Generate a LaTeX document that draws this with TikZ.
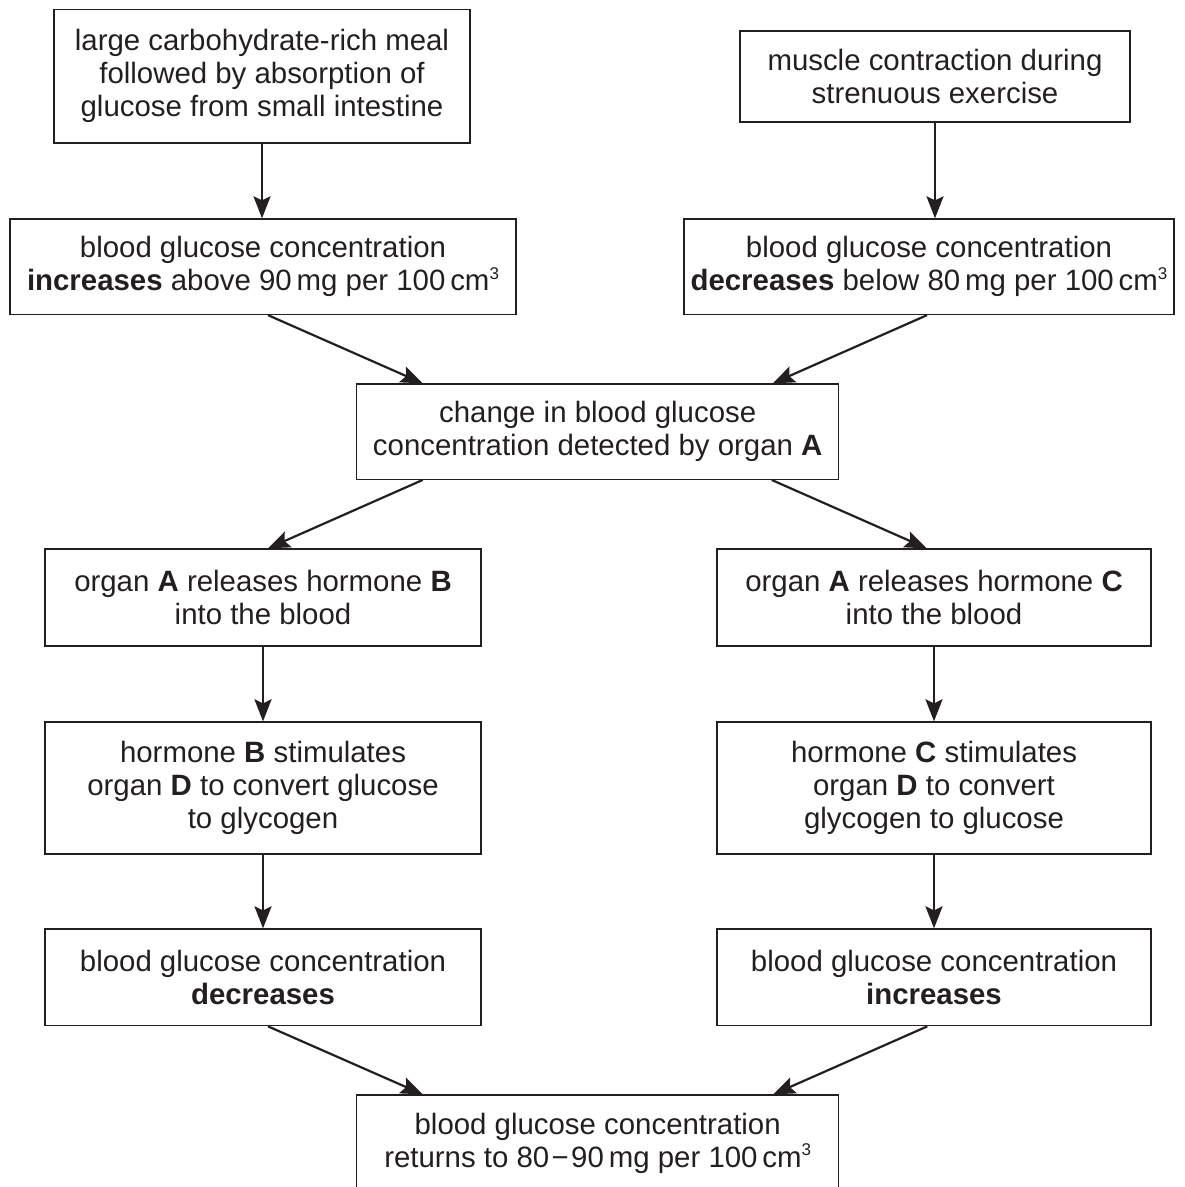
\documentclass[tikz,border=0pt]{standalone}
\usepackage{fontspec}
\setmainfont{Liberation Sans}
\usetikzlibrary{arrows.meta}
\definecolor{ink}{HTML}{231F20}
\newcommand{\cubesup}{\raisebox{0.75ex}{\fontsize{8.5pt}{8.5pt}\selectfont 3}}
\begin{document}
\begin{tikzpicture}[x=0.5pt,y=-0.5pt,
  box/.style={draw=ink, line width=0.65pt, inner sep=0pt, align=center, text=ink,
    font=\fontsize{14.7pt}{16.5pt}\selectfont},
  arr/.style={draw=ink, line width=1.1pt, -{Stealth[length=11pt,width=8.5pt,inset=2pt]}}]
\useasboundingbox (0,0) rectangle (1184,1187);
\begin{scope}
\clip (0,0) rectangle (1184,1187);
\node[box, minimum width=208pt, minimum height=66.75pt] (b1) at (262,76.25)
  {large carbohydrate-rich meal\\followed by absorption of\\glucose from small intestine};
\node[box, minimum width=195pt, minimum height=45.5pt] (b2) at (935,76.5)
  {muscle contraction during\\strenuous exercise};
\node[box, minimum width=253pt, minimum height=47.75pt] (b3) at (263,266.75)
  {blood glucose concentration\\\textbf{increases} above 90\,mg per 100\,cm\cubesup};
\node[box, minimum width=245pt, minimum height=47.75pt] (b4) at (929,266.75)
  {blood glucose concentration\\\textbf{decreases} below 80\,mg per 100\,cm\cubesup};
\node[box, minimum width=241pt, minimum height=47.65pt] (b5) at (597.7,431.65)
  {change in blood glucose\\concentration detected by organ \textbf{A}};
\node[box, minimum width=218pt, minimum height=48.5pt] (b6) at (263,597.5)
  {organ \textbf{A} releases hormone \textbf{B}\\into the blood};
\node[box, minimum width=217pt, minimum height=48.5pt] (b7) at (934,597.5)
  {organ \textbf{A} releases hormone \textbf{C}\\into the blood};
\node[box, minimum width=218pt, minimum height=66pt] (b8) at (263,788)
  {hormone \textbf{B} stimulates\\organ \textbf{D} to convert glucose\\to glycogen};
\node[box, minimum width=217pt, minimum height=66pt] (b9) at (934,788)
  {hormone \textbf{C} stimulates\\organ \textbf{D} to convert\\glycogen to glucose};
\node[box, minimum width=218pt, minimum height=48.35pt] (b10) at (263,977.35)
  {blood glucose concentration\\\textbf{decreases}};
\node[box, minimum width=217pt, minimum height=48.35pt] (b11) at (934,977.35)
  {blood glucose concentration\\\textbf{increases}};
\node[box, minimum width=241pt, minimum height=48pt] (b12) at (597.7,1143)
  {blood glucose concentration\\returns to 80\kern1.2pt−\kern1.2pt90\,mg per 100\,cm\cubesup};

\draw[arr] (b1.south) -- (b1.south |- b3.north);
\draw[arr] (b2.south) -- (b2.south |- b4.north);
\draw[arr] ([xshift=2.5pt]b3.south) -- ([xshift=-87.5pt]b5.north);
\draw[arr] ([xshift=-1pt]b4.south) -- ([xshift=87.5pt]b5.north);
\draw[arr] ([xshift=-87.5pt]b5.south) -- ([xshift=2.5pt]b6.north);
\draw[arr] ([xshift=87pt]b5.south) -- ([xshift=-3.65pt]b7.north);
\draw[arr] (b6.south) -- (b8.north);
\draw[arr] (b7.south) -- (b9.north);
\draw[arr] (b8.south) -- (b10.north);
\draw[arr] (b9.south) -- (b11.north);
\draw[arr] ([xshift=2.5pt]b10.south) -- ([xshift=-87.5pt]b12.north);
\draw[arr] ([xshift=-3.35pt]b11.south) -- ([xshift=87.8pt]b12.north);
\end{scope}
\end{tikzpicture}
\end{document}
